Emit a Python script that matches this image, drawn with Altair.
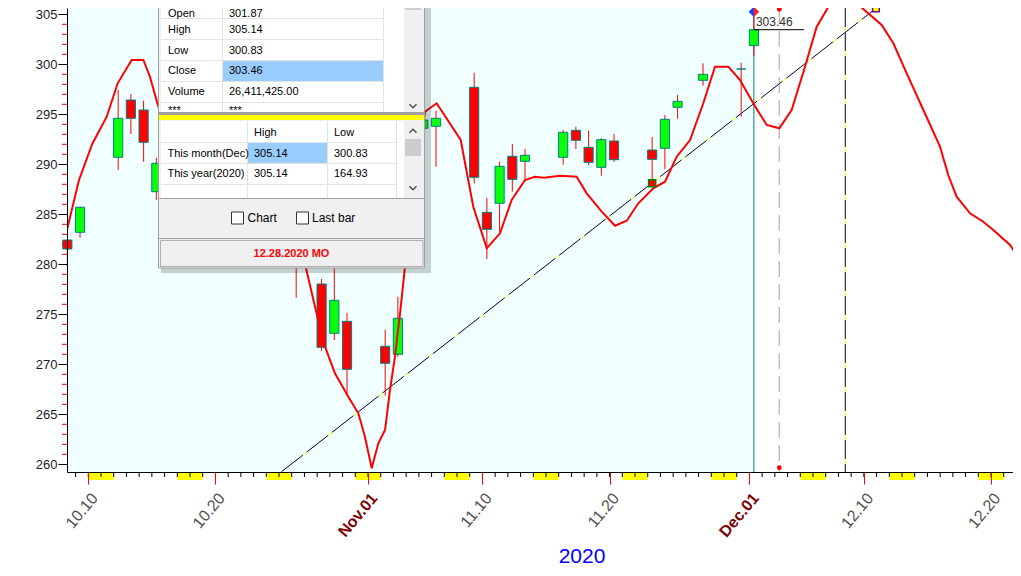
import altair as alt
import pandas as pd

# ---------------- data (day index: 0 = Oct 10 2020 tick) ----------------
c_day   = [-2, -1, 2, 3, 4, 5, 16, 18, 19, 20, 23, 24, 26, 27, 30, 31, 32, 33, 34, 37,
           38, 39, 40, 41, 44, 45, 46, 48, 51, 52]
c_open  = [282.43, 283.2, 290.7, 296.43, 295.43, 287.26, 283.0, 278.03, 273.1, 274.3,
           271.8, 271.0, 293.6, 293.8, 297.7, 285.2, 286.1, 290.8, 290.3, 290.7,
           293.4, 291.7, 289.7, 292.33, 291.43, 291.6, 295.7, 298.4, 299.53, 301.87]
c_high  = [282.45, 285.75, 297.43, 297.03, 296.36, 290.66, 284.0, 278.53, 279.8, 275.13,
           273.46, 276.76, 294.9, 295.36, 299.16, 286.66, 290.26, 292.03, 291.53, 293.43,
           293.76, 293.36, 292.63, 293.03, 292.73, 294.93, 296.93, 300.1, 300.16, 305.14]
c_low   = [279.74, 282.66, 289.43, 293.03, 290.26, 286.43, 276.66, 271.36, 272.43, 266.86,
           266.86, 270.76, 293.0, 289.76, 288.1, 280.53, 283.26, 287.26, 288.43, 289.96,
           291.53, 289.93, 288.86, 290.26, 288.43, 289.53, 294.56, 297.86, 294.76, 300.83]
c_close = [281.53, 285.7, 294.6, 294.6, 292.2, 290.1, 281.0, 271.7, 276.4, 269.5,
           270.1, 274.6, 294.43, 294.6, 288.7, 283.5, 289.8, 288.5, 290.9, 293.2,
           292.4, 290.2, 292.46, 290.46, 290.5, 294.5, 296.3, 299.0, 299.53, 303.46]
volume_text = "26,411,425.00"

ma_d = [-1.70, -0.73, 0.31, 1.45, 2.31, 3.41, 4.33, 4.85, 5.51,
        17.10, 17.83, 18.62, 19.40, 20.45, 21.24, 21.76, 22.29, 22.81, 23.34, 23.73, 24.12, 24.52, 24.91,
        26.48, 27.40, 29.29, 30.28, 31.34, 32.38, 33.30, 34.35, 35.13, 35.84,
        37.10, 38.41, 39.20, 40.38, 41.43, 42.35, 43.26, 44.44, 45.36, 46.28,
        47.33, 48.37, 49.29, 50.34, 51.26, 52.38, 53.36, 54.35, 55.32, 56.37,
        57.29, 58.34, 59.52, 60.44, 62.40, 63.32, 64.37, 65.68, 66.99, 67.64,
        68.30, 69.35, 70.39, 71.18, 72.50, 73.29]
ma_v = [283.33, 288.43, 292.03, 294.76, 298.1, 300.43, 300.43, 298.76, 295.76,
        279.76, 275.76, 271.76, 269.1, 266.76, 265.1, 262.76, 259.6, 262.1, 263.43, 267.43, 270.76, 275.1, 279.76,
        295.26, 296.1, 292.43, 285.76, 281.6, 283.1, 286.43, 288.43, 288.76, 288.66,
        288.86, 288.76, 287.1, 285.26, 283.86, 284.36, 286.1, 287.6, 288.26, 290.76,
        292.43, 296.1, 299.76, 299.76, 298.43, 295.93, 293.93, 293.6, 295.43, 299.76,
        303.76, 306.03, 306.4, 306.1, 303.93, 302.1, 299.1, 295.43, 291.76, 288.9,
        286.76, 285.1, 284.26, 283.43, 281.93, 280.43]

trend_d = [15.2, 62.8]
trend_v = [259.26, 306.43]
mark1_d, mark1_v = [44.35], [288.1]
mark2_d, mark2_v = [61.95], [305.6]
cursor_d = [54.35]
future_d = [59.54]
cursor_dot_v = [305.5, 259.66]
price_line_end = [56.3]

tick_days = [0, 10, 22, 31, 41, 52, 61, 71]
tick_labels = ["10.10", "10.20", "Nov.01", "11.10", "11.20", "Dec.01", "12.10", "12.20"]
month_days = [22, 52]
y_major = [260, 265, 270, 275, 280, 285, 290, 295, 300, 305]
y_minor = [v for v in range(260, 306) if v % 5 != 0]
day_ticks = list(range(-1, 73))
weekend_start = [0, 7, 14, 21, 28, 35, 42, 49, 56, 63, 70]

info_names = ["Open", "High", "Low", "Close", "Volume", "***"]
info_vals = [f"{c_open[-1]:.2f}", f"{c_high[-1]:.2f}", f"{c_low[-1]:.2f}",
             f"{c_close[-1]:.2f}", volume_text, "***"]
hl_header = ["High", "Low"]
hl_rows = ["This month(Dec)", "This year(2020)"]
hl_high = ["305.14", "305.14"]
hl_low = ["300.83", "164.93"]
status_text = "12.28.2020 MO"
year_text = "2020"

# ---------------- layout ----------------
W, H = 946, 464
X0, Y0 = 67, 8
XMIN, XMAX = -1.675, 72.73
YMIN, YMAX = 259.23, 305.63
OFF = 0.35
HALF = 0.36
FONT = "Liberation Sans"

xs = alt.Scale(domain=[XMIN, XMAX], nice=False, zero=False)
ys = alt.Scale(domain=[YMIN, YMAX], nice=False, zero=False)

label_expr = "{" + ",".join(f"'{d}':'{l}'" for d, l in zip(tick_days, tick_labels)) + "}[datum.value]"
month_test = " || ".join(f"datum.value == {d}" for d in month_days)

xaxis = alt.Axis(values=tick_days, labelExpr=label_expr, tickColor="#FF0000", tickSize=12,
                 domainColor="black", labelAngle=310, labelAlign="right", labelBaseline="middle",
                 labelPadding=11, labelOffset=6, labelFontSize=16, labelFont=FONT,
                 labelColor={"condition": {"test": month_test, "value": "#800000"}, "value": "#505050"},
                 labelFontWeight={"condition": {"test": month_test, "value": "bold"}, "value": "normal"},
                 labelOverlap=False, labelBound=False, grid=False, title=None, zindex=1)
yaxis = alt.Axis(values=y_major, tickSize=9, tickColor="black", domainColor="black",
                 labelFontSize=13, labelFont=FONT, labelColor="#1c1c2c", labelPadding=1,
                 grid=False, title=None, zindex=1)

one = pd.DataFrame({"k": [0]})


def X(field):
    return alt.X(field, type="quantitative", scale=xs, axis=xaxis)


def Y(field):
    return alt.Y(field, type="quantitative", scale=ys, axis=yaxis)


layers = []

# background (history region light cyan)
last_pos = c_day[-1] + OFF
bg = pd.DataFrame({"x1": [XMIN], "x2": [last_pos], "y1": [YMIN], "y2": [YMAX]})
layers.append(alt.Chart(bg).mark_rect(fill="#F0FFFF").encode(
    x=X("x1"), x2="x2:Q", y=Y("y1"), y2="y2:Q"))

# vertical lines
layers.append(alt.Chart(pd.DataFrame({"x": cursor_d})).mark_rule(
    color="#C0C0C0", strokeWidth=1.5, strokeDash=[16, 7]).encode(x=X("x")))
layers.append(alt.Chart(pd.DataFrame({"x": future_d})).mark_rule(
    color="#FFFF00", strokeWidth=1).encode(x=X("x")))
layers.append(alt.Chart(pd.DataFrame({"x": future_d})).mark_rule(
    color="#000080", strokeWidth=1, strokeDash=[19, 5]).encode(x=X("x")))
layers.append(alt.Chart(pd.DataFrame({"x": [last_pos]})).mark_rule(
    color="#008080", strokeWidth=1).encode(x=X("x")))

# trend line
tdf = pd.DataFrame({"d": trend_d, "v": trend_v})
layers.append(alt.Chart(tdf).mark_line(color="#FFFF00", strokeWidth=1, clip=True).encode(x=X("d"), y=Y("v")))
layers.append(alt.Chart(tdf).mark_line(color="#000080", strokeWidth=1, strokeDash=[27, 5], clip=True).encode(x=X("d"), y=Y("v")))

# candles
cdf = pd.DataFrame({"d": c_day, "o": c_open, "h": c_high, "l": c_low, "c": c_close})
cdf["pos"] = cdf["d"] + OFF
cdf["x1"] = cdf["pos"] - HALF
cdf["x2"] = cdf["pos"] + HALF
cdf["bot"] = cdf[["o", "c"]].min(axis=1)
cdf["top"] = cdf[["o", "c"]].max(axis=1)
cdf["fill"] = ["#0AFF0A" if c > o else ("#FF0000" if c < o else "#008080") for o, c in zip(c_open, c_close)]
layers.append(alt.Chart(cdf).mark_rule(color="#FF0000", strokeWidth=1).encode(
    x=X("pos"), y=Y("l"), y2="h:Q"))
layers.append(alt.Chart(cdf).mark_rect(stroke="#007F7F", strokeWidth=1).encode(
    x=X("x1"), x2="x2:Q", y=Y("bot"), y2="top:Q", fill=alt.Fill("fill:N", scale=None)))

# moving average curve
mdf = pd.DataFrame({"d": ma_d, "v": ma_v})
layers.append(alt.Chart(mdf).mark_line(color="#FF0000", strokeWidth=2, clip=True).encode(x=X("d"), y=Y("v")))

# markers
layers.append(alt.Chart(pd.DataFrame({"d": mark1_d, "v": mark1_v})).mark_point(
    shape="square", filled=True, fill="#FF0000", stroke="#008000", strokeWidth=1.5, size=50, opacity=1
).encode(x=X("d"), y=Y("v")))
layers.append(alt.Chart(pd.DataFrame({"d": mark2_d, "v": mark2_v})).mark_point(
    shape="square", filled=True, fill="#FFFF00", stroke="#800080", strokeWidth=1.5, size=45, opacity=1
).encode(x=X("d"), y=Y("v")))
layers.append(alt.Chart(pd.DataFrame({"d": cursor_d * 2, "v": cursor_dot_v})).mark_circle(
    color="#FF0000", size=22, opacity=1).encode(x=X("d"), y=Y("v")))
# diamond at last bar
ddf = pd.DataFrame({"d": [last_pos], "v": [305.25]})
layers.append(alt.Chart(ddf).mark_point(shape="M0,-1L-1,0L0,1Z", filled=True, fill="#1E3CFF",
                                        size=110, opacity=1).encode(x=X("d"), y=Y("v")))
layers.append(alt.Chart(ddf).mark_point(shape="M0,-1L1,0L0,1Z", filled=True, fill="#FF2020",
                                        size=110, opacity=1).encode(x=X("d"), y=Y("v")))
# last close label
pl = pd.DataFrame({"d": [last_pos], "d2": price_line_end, "v": [c_close[-1]]})
layers.append(alt.Chart(pl).mark_rule(color="black", strokeWidth=1).encode(x=X("d"), x2="d2:Q", y=Y("v")))
layers.append(alt.Chart(pl).mark_text(text=f"{c_close[-1]:.2f}", align="left", baseline="bottom",
                                      dx=2, dy=-1, fontSize=12, font=FONT, color="#303030"
                                      ).encode(x=X("d"), y=Y("v")))

# x-axis decorations: weekend bars and day ticks
wdf = pd.DataFrame({"s": weekend_start})
wdf["e"] = wdf["s"] + 2
layers.append(alt.Chart(wdf).mark_rect(fill="#FFFF00").encode(
    x=X("s"), x2="e:Q", y=alt.value(H), y2=alt.value(H + 8)))
layers.append(alt.Chart(pd.DataFrame({"d": day_ticks})).mark_rule(color="black", strokeWidth=1).encode(
    x=X("d"), y=alt.value(H), y2=alt.value(H + 5)))
# y minor ticks
layers.append(alt.Chart(pd.DataFrame({"v": y_minor})).mark_rule(color="#E00000", strokeWidth=1).encode(
    y=Y("v"), x=alt.value(-5), x2=alt.value(0)))


# ---------------- info panel (page-pixel placement) ----------------
def prect(x1, x2, y1, y2, fill, stroke=None, sw=1.0, opacity=1.0):
    kw = dict(fill=fill, opacity=opacity)
    if stroke:
        kw.update(stroke=stroke, strokeWidth=sw)
    return alt.Chart(one).mark_rect(**kw).encode(
        x=alt.value(x1 - X0), x2=alt.value(x2 - X0), y=alt.value(y1 - Y0), y2=alt.value(y2 - Y0))


def pline(x1, x2, y1, y2, color, sw=1.0):
    return alt.Chart(one).mark_rule(color=color, strokeWidth=sw).encode(
        x=alt.value(x1 - X0), x2=alt.value(x2 - X0), y=alt.value(y1 - Y0), y2=alt.value(y2 - Y0))


def ptext(x, y, s, size=11, color="#000000", weight="normal", align="left"):
    return alt.Chart(one).mark_text(text=s, fontSize=size, font=FONT, color=color, fontWeight=weight,
                                    align=align, baseline="middle").encode(
        x=alt.value(x - X0), y=alt.value(y - Y0))


def pchev(x, y, up=False):
    shape = "M-1,0.5L0,-0.5L1,0.5" if up else "M-1,-0.5L0,0.5L1,-0.5"
    return alt.Chart(one).mark_point(shape=shape, filled=False, stroke="#505050", strokeWidth=1.5,
                                     size=50, opacity=1).encode(x=alt.value(x - X0), y=alt.value(y - Y0))


P = []
P.append(prect(161, 431, 3, 273, "#000000", opacity=0.18))          # shadow
P.append(prect(158.5, 424.5, -10, 268, "#F0F0F0", "#A0A0A0", 1))    # frame
# upper grid
P.append(prect(161, 404, -10, 113, "#FFFFFF"))
P.append(prect(404, 422, -10, 113, "#F0F0F0"))
P.append(prect(405, 421, -10, 10, "#CDCDCD"))
P.append(pchev(413, 106))
P.append(prect(223, 383, 61, 81, "#99CCFF"))
for yy in [18.5, 39.5, 60.5, 81.5, 102.5]:
    P.append(pline(161, 383, yy, yy, "#E3E3E3"))
P.append(pline(222.5, 222.5, -10, 113, "#E3E3E3"))
P.append(pline(383.5, 383.5, -10, 113, "#E3E3E3"))
row_y = [13.5, 29.5, 50.5, 71, 92, 111]
for yy, n, v in zip(row_y, info_names, info_vals):
    P.append(ptext(168, yy, n))
    P.append(ptext(229, yy, v))
P.append(prect(159, 424, 112, 115, "#A0A0A0"))
P.append(prect(159, 424, 115, 120, "#FFFF00"))
# lower grid
P.append(prect(161, 404, 121, 198, "#FFFFFF"))
P.append(prect(404, 422, 121, 198, "#F0F0F0"))
P.append(prect(405, 421, 139, 156, "#CDCDCD"))
P.append(pchev(413, 131, up=True))
P.append(pchev(413, 188))
P.append(prect(248, 327, 143, 163, "#99CCFF"))
for yy in [142.5, 163.5, 184.5]:
    P.append(pline(161, 396, yy, yy, "#E3E3E3"))
for xx in [247.5, 327.5, 396.5]:
    P.append(pline(xx, xx, 121, 198, "#E3E3E3"))
P.append(ptext(254, 132.5, hl_header[0]))
P.append(ptext(334, 132.5, hl_header[1]))
for yy, n, h, l in zip([153.5, 174], hl_rows, hl_high, hl_low):
    P.append(ptext(167.5, yy, n))
    P.append(ptext(254, yy, h))
    P.append(ptext(334, yy, l))
P.append(pline(159, 424, 198.5, 198.5, "#A0A0A0"))
# check boxes
P.append(prect(231.5, 243.5, 212, 224, "#FFFFFF", "#333333", 1))
P.append(ptext(247.5, 218, "Chart", size=12))
P.append(prect(296.5, 308.5, 212, 224, "#FFFFFF", "#333333", 1))
P.append(ptext(312, 218, "Last bar", size=12))
P.append(pline(159, 424, 238.5, 238.5, "#A0A0A0"))
P.append(prect(160.5, 423, 240.5, 266.5, "#F0F0F0", "#B0B0B0", 1))
P.append(ptext(291.5, 253.5, status_text, size=11, color="#FF0000", weight="bold", align="center"))
layers.extend(P)

# year caption
layers.append(alt.Chart(one).mark_text(text=year_text, fontSize=21, font=FONT, color="#0000FF",
                                       align="center", baseline="middle").encode(
    x=alt.value(582 - X0), y=alt.value(557 - Y0)))

chart = alt.layer(*layers).properties(
    width=W, height=H,
    padding={"left": 59, "top": 0, "right": 0, "bottom": 96},
    autosize=alt.AutoSizeParams(type="none"),
    background="white",
).configure_view(strokeWidth=0)

chart.save("out.html", embed_options={"renderer": "svg", "actions": False})
